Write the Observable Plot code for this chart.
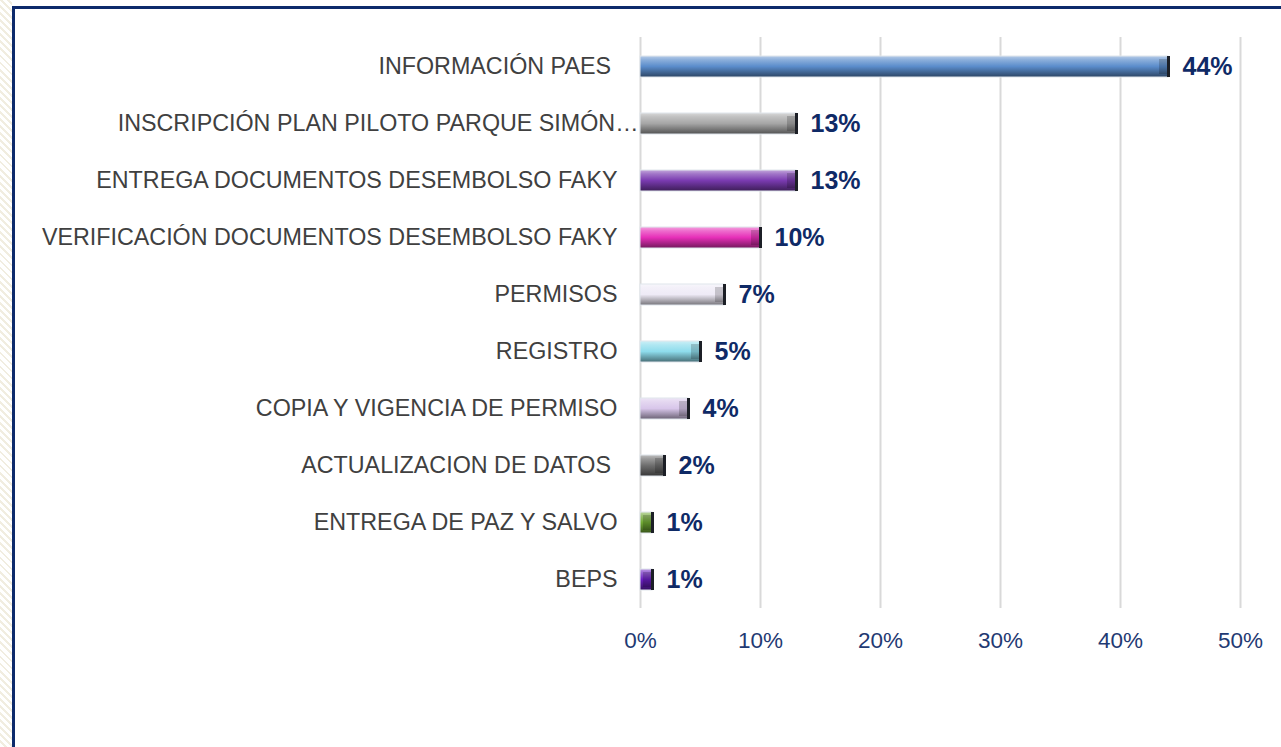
<!DOCTYPE html>
<html><head><meta charset="utf-8">
<script src="https://cdn.jsdelivr.net/npm/d3@7"></script>
<script src="https://cdn.jsdelivr.net/npm/@observablehq/plot@0.6"></script>
<style>
html,body{margin:0;padding:0;background:#fff;}
#wrap{position:relative;width:1281px;height:747px;overflow:hidden;font-family:"Liberation Sans",Arial,sans-serif;}
#hatch{position:absolute;left:0;top:0;width:12px;height:747px;background:repeating-linear-gradient(45deg,#fff 0 3px,#f1ede0 3px 5px);}
#frame{position:absolute;left:12px;top:6px;width:1300px;height:800px;border-left:3px solid #0d2a6b;border-top:3px solid #0d2a6b;}
#chart{position:absolute;left:0;top:0;}
#chart svg text.lbl{white-space:pre;}
</style></head>
<body><div id="wrap"><div id="hatch"></div><div id="frame"></div><div id="chart"></div></div>
<script>
const categories = [
  "INFORMACIÓN PAES ",
  "INSCRIPCIÓN PLAN PILOTO PARQUE SIMÓN…",
  "ENTREGA DOCUMENTOS DESEMBOLSO FAKY",
  "VERIFICACIÓN DOCUMENTOS DESEMBOLSO FAKY",
  "PERMISOS",
  "REGISTRO",
  "COPIA Y VIGENCIA DE PERMISO",
  "ACTUALIZACION DE DATOS ",
  "ENTREGA DE PAZ Y SALVO",
  "BEPS"
];
const values = [0.44, 0.13, 0.13, 0.10, 0.07, 0.05, 0.04, 0.02, 0.01, 0.01];
const xTicks = [0, 0.1, 0.2, 0.3, 0.4, 0.5];
const palette = ["#5a8ccb", "#a6a6a6", "#7a3bb0", "#e62fb8", "#eeeaf6", "#8edcec", "#d8c6ea", "#6e6e6e", "#6fa832", "#6a1fc0"];

const data = categories.map((c, i) => ({category: c, value: values[i]}));
const fmt = d3.format(".0%");
const truncated = categories[1];

const chart = Plot.plot({
  width: 1281,
  height: 747,
  marginLeft: 640,
  marginRight: 41,
  marginTop: 37,
  marginBottom: 139,
  style: {fontFamily: '"Liberation Sans", Arial, sans-serif', background: "transparent"},
  x: {domain: [0, 0.5], ticks: xTicks},
  y: {domain: categories, paddingInner: 0.64, paddingOuter: 0.32, axis: null},
  color: {domain: categories, range: palette},
  marks: [
    Plot.ruleX(xTicks, {stroke: "#d9d9d9", strokeWidth: 2}),
    Plot.axisX({ticks: xTicks, tickFormat: fmt, tickSize: 0, tickPadding: 24, fontSize: 22.5, fill: "#1f3a73", label: null}),
    Plot.barX(data, {y: "category", x: "value", fill: "category", stroke: "#dfe5ec", strokeWidth: 1, className: "bevelbar"}),
    Plot.barX(data, {y: "category", x1: "value", x2: "value", insetLeft: -9, insetTop: 3, insetBottom: 3, fill: "#000", fillOpacity: 0.18}),
    Plot.tickX(data, {y: "category", x: "value", stroke: "#1c1f26", strokeWidth: 3}),
    Plot.text(data, {y: "category", x: "value", text: d => fmt(d.value), textAnchor: "start", dx: 14, fontSize: 25, fontWeight: "bold", fill: "#0f2a66"}),
    Plot.text(data.filter(d => d.category !== truncated), {y: "category", x: 0, text: "category", textAnchor: "end", dx: -23, fontSize: 23.3, fill: "#404040", className: "lbl"}),
    Plot.text(data.filter(d => d.category === truncated), {y: "category", x: 0, text: "category", textAnchor: "end", dx: -2, fontSize: 23.3, fill: "#404040", className: "lbl"})
  ]
});

// bevel gradients
const svg = d3.select(chart);
const defs = svg.insert("defs", ":first-child");
palette.forEach((col, i) => {
  const base = d3.color(col);
  const g = defs.append("linearGradient").attr("id", "bev" + i).attr("x1", 0).attr("y1", 0).attr("x2", 0).attr("y2", 1);
  const light = d3.interpolateRgb(col, "#ffffff");
  const dark = d3.interpolateRgb(col, "#000000");
  g.append("stop").attr("offset", "0%").attr("stop-color", light(0.55));
  g.append("stop").attr("offset", "18%").attr("stop-color", light(0.3));
  g.append("stop").attr("offset", "50%").attr("stop-color", base.formatHex());
  g.append("stop").attr("offset", "80%").attr("stop-color", dark(0.3));
  g.append("stop").attr("offset", "100%").attr("stop-color", dark(0.5));
});
svg.selectAll(".bevelbar rect").attr("fill", function() {
  const f = d3.color(this.getAttribute("fill")).formatHex();
  const idx = palette.findIndex(p => d3.color(p).formatHex() === f);
  return idx >= 0 ? `url(#bev${idx})` : f;
});
svg.selectAll(".lbl text").style("white-space", "pre");

document.getElementById("chart").appendChild(chart);
</script>
</body></html>
